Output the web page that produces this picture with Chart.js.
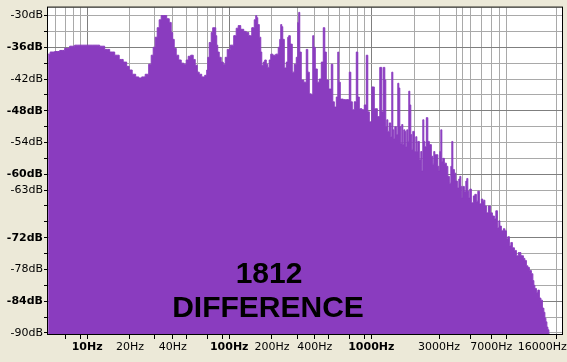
<!DOCTYPE html>
<html>
<head>
    <title>1812 Difference</title>
    <script src="https://cdn.jsdelivr.net/npm/chart.js"></script>
    <style>
        body { margin: 0; background: #ece9d8; }
    </style>
</head>
<body>
    <canvas id="myChart" width="567" height="362"></canvas>

    <script>
        // spectrum: frequency in Hz and level in dB
        var freqHz = [
            5.31, 5.67, 6.15, 6.67, 7.23, 7.84, 8.5, 10, 11.76, 12.75, 13.83, 15.0, 16.27, 17.36, 18.52, 19.44,
            20.08, 21.43, 22.49, 23.62, 24.8, 26.45, 27.78, 28.7, 29.64, 30.62, 31.62, 32.66, 33.74, 35.42, 37.19, 38.42,
            39.68, 40.33, 41.66, 43.03, 45.18, 46.67, 49.0, 50.61, 52.28, 54.88, 56.68, 58.55, 60.48, 62.48, 65.59, 68.87,
            70.0, 71.14, 73.49, 75.91, 77.15, 79.7, 81.0, 82.31, 83.66, 86.42, 89.27, 92.22, 95.26, 98.4, 105.0, 110.2,
            113.8, 117.6, 123.4, 129.7, 133.9, 140.6, 147.6, 152.5, 155.0, 157.5, 160.1, 165.4, 168.1, 170.8, 176.4, 179.3,
            185.2, 188.2, 194.4, 197.6, 207.5, 217.8, 224.9, 228.7, 232.4, 236.2, 240.1, 248.0, 256.2, 260.4, 264.6, 273.3,
            282.3, 291.6, 301.2, 306.1, 311.2, 316.2, 326.7, 343.0, 354.3, 360.1, 372.0, 384.2, 390.5, 396.8, 409.9, 423.4,
            437.4, 451.8, 466.7, 474.5, 490.0, 514.4, 531.4, 540.1, 557.9, 576.3, 585.7, 595.2, 614.8, 656.1, 688.7, 711.5,
            723.1, 746.9, 771.5, 796.9, 810.0, 836.6, 878.4, 907.4, 937.2, 952.6, 984.0, 1033, 1067, 1085, 1120, 1176,
            1196, 1235, 1255, 1275, 1297, 1318, 1361, 1383, 1406, 1429, 1452, 1476, 1525, 1549, 1575, 1600,
            1627, 1653, 1680, 1708, 1736, 1764, 1793, 1822, 1852, 1882, 1913, 1944, 1976, 2041, 2075, 2108,
            2143, 2214, 2250, 2287, 2324, 2362, 2401, 2480, 2520, 2603, 2689, 2733, 2778, 2823, 2916, 2964,
            3012, 3062, 3112, 3162, 3214, 3320, 3430, 3486, 3601, 3660, 3719, 3780, 3905, 3968, 4099, 4166,
            4234, 4303, 4373, 4444, 4592, 4667, 4743, 4820, 4899, 4979, 5144, 5314, 5401, 5579, 5670, 5857,
            6051, 6150, 6250, 6352, 6561, 6778, 7000, 7232, 7470, 7592, 7843, 7970, 8100, 8367, 8643, 8784,
            9074, 9222, 9526, 9681, 10000, 10330, 10670, 11020, 11570, 11950, 12150, 12550, 12750, 13170, 13610, 13830,
            14060, 14290, 14760, 15000, 15490, 15750, 16270, 16530, 16810, 17080, 17360, 17640, 17930
        ];
        var levelDb = [
            -37.3, -36.9, -36.8, -36.6, -36.2, -35.8, -35.6, -35.6, -35.6, -35.8, -36.4, -36.9, -37.5, -38.3, -38.8, -39.6,
            -40.3, -41.1, -41.6, -41.8, -41.6, -41.1, -39.2, -37.5, -36.0, -34.1, -32.3, -30.8, -30.0, -30.0, -30.6, -31.3,
            -33.2, -34.5, -36.2, -37.5, -38.4, -39.0, -39.2, -38.4, -37.7, -37.5, -38.3, -39.4, -40.7, -41.1, -41.6, -41.3,
            -40.3, -37.9, -35.1, -33.2, -32.3, -32.3, -33.8, -35.6, -36.9, -37.9, -38.8, -39.2, -37.9, -36.4, -35.6, -33.8,
            -32.4, -31.9, -32.6, -33.0, -33.2, -33.8, -32.3, -30.8, -30.0, -30.4, -31.7, -34.1, -36.9, -39.4, -38.8, -38.4,
            -39.2, -39.8, -38.4, -37.3, -37.5, -37.3, -36.0, -34.5, -31.7, -32.1, -34.5, -39.9, -38.8, -34.1, -33.8, -35.4,
            -40.7, -39.2, -37.9, -31.3, -29.4, -36.9, -42.2, -42.6, -36.4, -40.7, -44.8, -45.0, -33.8, -36.0, -40.1, -42.6,
            -42.0, -38.8, -32.3, -36.9, -42.2, -43.9, -39.2, -46.3, -47.3, -45.4, -36.9, -42.6, -45.8, -45.9, -45.9, -40.7,
            -46.3, -47.8, -46.3, -36.9, -45.4, -47.6, -47.8, -46.9, -37.5, -48.2, -50.1, -43.5, -47.6, -47.6, -49.1, -39.8,
            -48.2, -39.8, -42.2, -51.0, -49.7, -51.9, -50.3, -52.9, -40.7, -51.6, -53.3, -51.0, -52.5, -42.8, -43.7, -51.0,
            -54.2, -50.6, -54.4, -51.6, -51.9, -54.8, -51.6, -53.8, -44.3, -46.9, -52.5, -55.3, -51.9, -55.7, -52.9, -55.7,
            -53.8, -57.2, -55.7, -59.4, -49.7, -53.8, -54.8, -49.3, -53.8, -54.4, -56.6, -58.1, -55.7, -56.3, -56.3, -58.5,
            -59.4, -55.7, -51.6, -57.6, -57.0, -57.9, -58.5, -60.4, -61.7, -58.5, -53.8, -59.1, -59.8, -61.3, -62.6, -60.9,
            -60.4, -62.3, -64.5, -62.3, -63.2, -61.3, -60.8, -63.2, -64.5, -62.8, -65.4, -64.1, -63.8, -65.1, -63.2, -65.6,
            -64.7, -65.1, -64.9, -66.0, -67.3, -66.0, -67.3, -67.9, -68.4, -66.9, -70.1, -68.8, -69.8, -70.7, -70.3, -70.7,
            -72.2, -71.8, -73.5, -72.9, -73.9, -74.4, -75.4, -74.8, -75.4, -75.9, -76.3, -77.3, -77.6, -78.2, -78.8, -80.1,
            -81.0, -81.6, -82.3, -81.9, -83.4, -83.8, -85.3, -86.1, -87.2, -87.9, -88.9, -89.4, -90.2
        ];

        // axis ticks
        var yGridDb = [-90, -87, -84, -81, -78, -75, -72, -69, -66, -63, -60, -57, -54, -51, -48, -45, -42, -39, -36, -33, -30];
        var yLabelDb = [-30, -36, -42, -48, -54, -60, -63, -72, -78, -84, -90];
        var yStrongDb = [-36, -48, -60, -72, -84];

        var xGridHz = [6, 7, 8, 9, 10, 20, 30, 40, 50, 60, 70, 80, 90,
                       100, 200, 300, 400, 500, 600, 700, 800, 900,
                       1000, 2000, 3000, 4000, 4400, 5000, 6000, 7000, 8000, 9000, 16000, 20000];
        var xLabelHz = [10, 20, 40, 100, 200, 400, 1000, 3000, 7000, 16000];
        var xStrongHz = [10, 100, 1000];
        var xTickHz = [7, 9, 10, 20, 30, 40, 50, 70, 90, 100, 200, 300, 400, 500, 700, 900, 1000, 3000, 5000, 7000, 9000, 20000];

        var purple = '#8a3cbf';
        var gridLight = '#a9a9a9';
        var gridDark = '#7f7f7f';

        var points = freqHz.map(function (f, i) { return { x: f, y: levelDb[i] }; });

        // beige page, white plot area, black frame and the caption
        var framePlugin = {
            id: 'frame',
            beforeDraw: function (chart) {
                var c = chart.ctx, a = chart.chartArea;
                c.save();
                c.fillStyle = '#ece9d8';
                c.fillRect(0, 0, chart.width, chart.height);
                c.fillStyle = '#ffffff';
                c.fillRect(a.left, a.top, a.right - a.left, a.bottom - a.top);
                c.restore();
            },
            afterDraw: function (chart) {
                var c = chart.ctx, a = chart.chartArea;
                c.save();
                c.strokeStyle = '#000000';
                c.lineWidth = 1;
                c.strokeRect(a.left - 0.5, a.top - 0.5, a.right - a.left + 1, a.bottom - a.top + 1);
                c.fillStyle = '#000000';
                c.font = 'bold 30px "Liberation Sans", Arial, sans-serif';
                c.textAlign = 'center';
                c.textBaseline = 'alphabetic';
                c.fillText('1812', 269, 283);
                c.fillText('DIFFERENCE', 268, 317);
                c.restore();
            }
        };

        var ctx = document.getElementById('myChart').getContext('2d');
        var myChart = new Chart(ctx, {
            type: 'line',
            data: {
                datasets: [{
                    data: points,
                    stepped: 'middle',
                    fill: 'start',
                    backgroundColor: purple,
                    borderColor: purple,
                    borderWidth: 1,
                    pointRadius: 0
                }]
            },
            options: {
                responsive: false,
                animation: false,
                layout: { padding: { top: 5, right: 5, left: 0, bottom: 0 } },
                plugins: {
                    legend: { display: false },
                    tooltip: { enabled: false }
                },
                scales: {
                    x: {
                        type: 'logarithmic',
                        min: 5.3,
                        max: 22000,
                        z: 1,
                        afterBuildTicks: function (s) {
                            s.ticks = xGridHz.map(function (v) { return { value: v }; });
                        },
                        afterFit: function (s) { s.height = 28; },
                        border: { display: false },
                        grid: {
                            color: function (c) {
                                var v = c.tick && c.tick.value;
                                if (v === 16000) return 'rgba(0,0,0,0)';
                                return xStrongHz.indexOf(v) >= 0 ? gridDark : gridLight;
                            },
                            tickColor: function (c) {
                                var v = c.tick && c.tick.value;
                                return xTickHz.indexOf(v) >= 0 ? '#000000' : 'rgba(0,0,0,0)';
                            },
                            tickLength: 5
                        },
                        ticks: {
                            autoSkip: false,
                            maxRotation: 0,
                            minRotation: 0,
                            padding: 2,
                            color: '#000000',
                            font: function (c) {
                                var v = c.tick && c.tick.value;
                                return {
                                    family: '"DejaVu Sans", Verdana, sans-serif',
                                    size: 11,
                                    weight: xStrongHz.indexOf(v) >= 0 ? 'bold' : 'normal'
                                };
                            },
                            callback: function (value) {
                                return xLabelHz.indexOf(value) >= 0 ? value + 'Hz' : '';
                            }
                        }
                    },
                    y: {
                        type: 'linear',
                        min: -90.2,
                        max: -28.5,
                        z: 1,
                        afterBuildTicks: function (s) {
                            s.ticks = yGridDb.map(function (v) { return { value: v }; });
                        },
                        afterFit: function (s) { s.width = 48; },
                        border: { display: false },
                        grid: {
                            color: function (c) {
                                var v = c.tick && c.tick.value;
                                return yStrongDb.indexOf(v) >= 0 ? gridDark : gridLight;
                            },
                            tickColor: '#000000',
                            tickLength: 4
                        },
                        ticks: {
                            autoSkip: false,
                            padding: 1,
                            color: '#000000',
                            font: function (c) {
                                var v = c.tick && c.tick.value;
                                return {
                                    family: '"DejaVu Sans", Verdana, sans-serif',
                                    size: 11,
                                    weight: yStrongDb.indexOf(v) >= 0 ? 'bold' : 'normal'
                                };
                            },
                            callback: function (value) {
                                return yLabelDb.indexOf(value) >= 0 ? value + 'dB' : '';
                            }
                        }
                    }
                }
            },
            plugins: [framePlugin]
        });
    </script>
</body>
</html>
